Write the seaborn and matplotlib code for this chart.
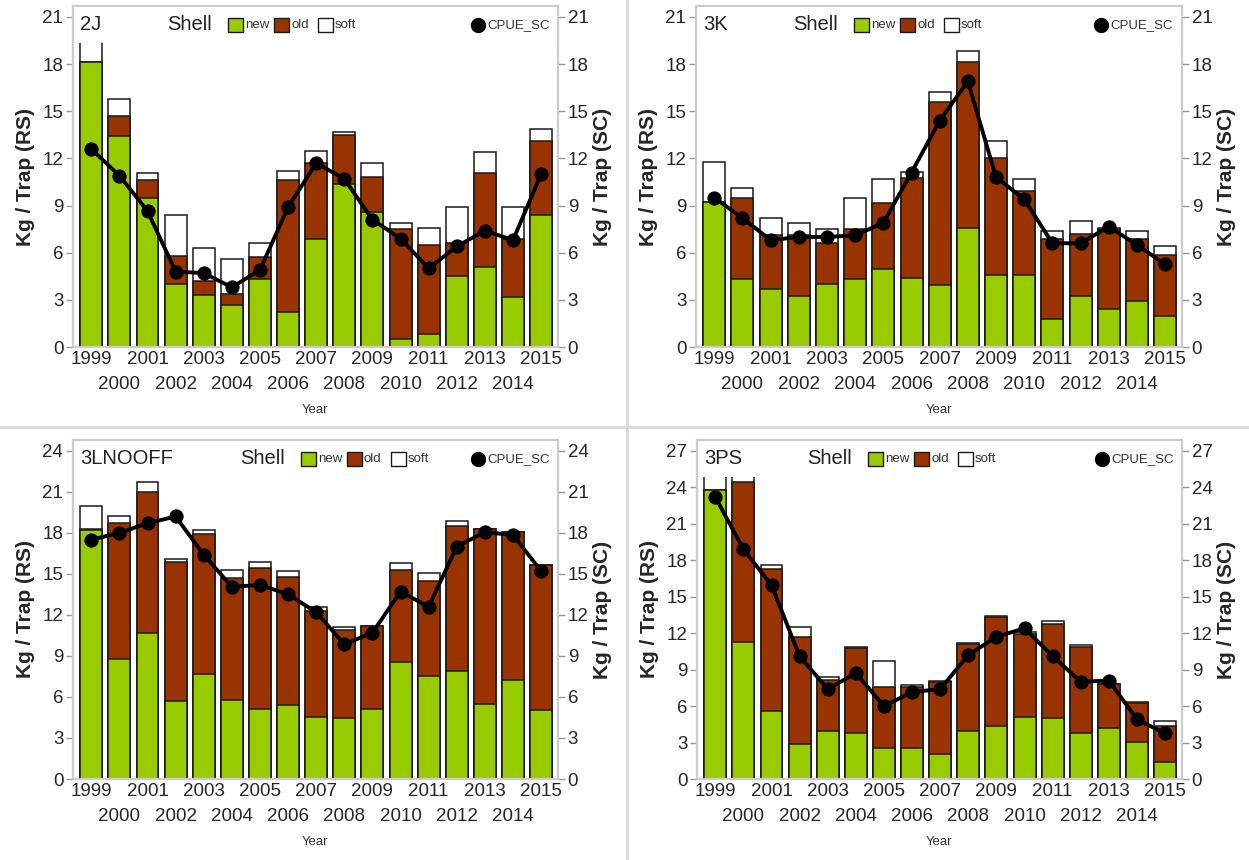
import numpy as np
import matplotlib
matplotlib.use('Agg')
import matplotlib.pyplot as plt
import seaborn as sns
from matplotlib.patches import Rectangle
from matplotlib.lines import Line2D

years = list(range(1999, 2016))

# -------- 2J --------
new_2j = [18.1, 13.4, 9.5, 4.0, 3.3, 2.7, 4.3, 2.2, 6.9, 10.4, 8.6, 0.5, 0.8, 4.5, 5.1, 3.2, 8.4]
old_2j = [0.0, 1.3, 1.1, 1.8, 0.9, 0.7, 1.4, 8.4, 4.8, 3.1, 2.2, 7.0, 5.7, 2.1, 6.0, 3.7, 4.7]
soft_2j = [1.7, 1.1, 0.5, 2.6, 2.1, 2.2, 0.9, 0.6, 0.8, 0.2, 0.9, 0.4, 1.1, 2.3, 1.3, 2.0, 0.8]
cpue_2j = [12.6, 10.9, 8.65, 4.8, 4.7, 3.8, 4.9, 8.9, 11.7, 10.7, 8.1, 6.9, 5.0, 6.4, 7.4, 6.8, 11.0]

# -------- 3K --------
new_3k = [9.2, 4.35, 3.7, 3.25, 4.0, 4.3, 4.95, 4.4, 3.95, 7.6, 4.55, 4.6, 1.75, 3.25, 2.4, 2.95, 1.95]
old_3k = [0.0, 5.1, 3.4, 3.85, 2.6, 3.2, 4.2, 6.35, 11.65, 10.55, 7.45, 5.3, 5.15, 3.95, 5.1, 3.95, 3.9]
soft_3k = [2.6, 0.65, 1.1, 0.8, 0.9, 2.0, 1.55, 0.4, 0.6, 0.65, 1.1, 0.8, 0.5, 0.8, 0.1, 0.5, 0.55]
cpue_3k = [9.5, 8.2, 6.8, 7.0, 7.0, 7.1, 7.9, 11.1, 14.4, 16.9, 10.8, 9.4, 6.6, 6.6, 7.65, 6.5, 5.25]

# -------- 3LNOOFF --------
new_3l = [18.2, 8.8, 10.7, 5.7, 7.7, 5.8, 5.1, 5.4, 4.5, 4.47, 5.15, 8.55, 7.5, 7.9, 5.5, 7.25, 5.07]
old_3l = [0.1, 9.9, 10.3, 10.2, 10.2, 8.9, 10.3, 9.4, 7.8, 6.4, 6.05, 6.75, 7.0, 10.6, 12.75, 10.8, 10.6]
soft_3l = [1.7, 0.5, 0.7, 0.2, 0.3, 0.6, 0.5, 0.4, 0.25, 0.25, 0.0, 0.5, 0.6, 0.4, 0.0, 0.0, 0.0]
cpue_3l = [17.5, 18.0, 18.7, 19.2, 16.4, 14.05, 14.2, 13.5, 12.2, 9.85, 10.7, 13.7, 12.6, 17.0, 18.05, 17.85, 15.2]

# -------- 3PS --------
new_3ps = [23.8, 11.3, 5.6, 2.85, 3.95, 3.8, 2.55, 2.55, 2.05, 3.95, 4.4, 5.1, 5.0, 3.75, 4.2, 3.05, 1.4]
old_3ps = [0.0, 13.1, 11.7, 8.85, 4.2, 7.0, 5.05, 5.05, 5.95, 7.15, 8.9, 6.8, 7.75, 7.15, 3.6, 3.2, 3.0]
soft_3ps = [1.7, 0.8, 0.3, 0.8, 0.25, 0.05, 2.1, 0.15, 0.1, 0.1, 0.15, 0.2, 0.25, 0.1, 0.0, 0.05, 0.4]
cpue_3ps = [23.2, 18.9, 15.95, 10.1, 7.4, 8.7, 6.0, 7.15, 7.4, 10.2, 11.7, 12.4, 10.1, 8.0, 8.1, 4.9, 3.75]

sns.set_style('white')
plt.rcParams['font.family'] = ['Liberation Sans', 'DejaVu Sans']

GREEN = '#99cc00'
BROWN = '#993300'
EDGE = '#1a1a1a'
FRAME = '#cccccc'
W, H = 1249, 860

fig = plt.figure(figsize=(W / 100, H / 100), dpi=100)


def draw_panel(name, new, old, soft, cpue, ymax, box, shell_px):
    x0, y0, x1, y1 = box
    pw, ph = x1 - x0, y1 - y0
    ax = fig.add_axes([x0 / W, 1 - y1 / H, pw / W, ph / H])

    new = np.array(new)
    old_top = new + np.array(old)
    total = old_top + np.array(soft)
    for vals, col in [(total, 'white'), (old_top, BROWN), (new, GREEN)]:
        sns.barplot(x=years, y=vals, color=col, saturation=1, width=0.78,
                    edgecolor=EDGE, linewidth=1.1, errorbar=None, ax=ax)

    top = ymax * 1.033
    ax.set_ylim(0, top)
    ax.set_xlim(-0.65, 16.6)
    ax.set_yticks(range(0, ymax + 1, 3))
    ax.set_ylabel('Kg / Trap (RS)', fontsize=15, fontweight='bold', labelpad=5)
    ax.set_xlabel('')

    # two rows of year labels
    ax.set_xticks(range(0, 17, 2))
    ax.set_xticklabels([str(y) for y in years[::2]])
    ax.set_xticks(range(1, 17, 2), minor=True)
    ax.set_xticklabels([str(y) for y in years[1::2]], minor=True)
    ax.tick_params(axis='x', which='major', length=0, pad=3, labelsize=13.5)
    ax.tick_params(axis='x', which='minor', length=0, pad=21, labelsize=13.5)
    ax.tick_params(axis='y', length=5, width=1, color='#999999', pad=2, labelsize=13.5)

    # white band holding the legend
    ax.add_patch(Rectangle((0, 0.892), 1, 0.108, transform=ax.transAxes,
                           facecolor='white', edgecolor='none', zorder=5))

    ax2 = ax.twinx()
    sns.lineplot(x=np.arange(17), y=cpue, ax=ax2, color='black', lw=2.8,
                 marker='o', markersize=9.5, markeredgecolor='black')
    ax2.set_ylim(0, top)
    ax2.set_yticks(range(0, ymax + 1, 3))
    ax2.set_ylabel('Kg / Trap (SC)', fontsize=15, fontweight='bold', labelpad=3)
    ax2.tick_params(axis='y', length=5, width=1, color='#999999', pad=2, labelsize=13.5)

    for a in (ax, ax2):
        for s in a.spines.values():
            s.set_color(FRAME)
            s.set_linewidth(1.5)

    # legend inside the band
    ty = 0.945
    fx = lambda px: (px - x0) / pw
    ax.text(fx(x0 + 7), ty, name, transform=ax.transAxes, fontsize=14.5,
            va='center', ha='left', color='#222222', zorder=7)
    ax.text(fx(shell_px), ty, 'Shell', transform=ax.transAxes, fontsize=14.5,
            va='center', ha='left', color='#222222', zorder=7)
    bw, bh = 15 / pw, 14 / ph
    for off, col, lab in [(61, GREEN, 'new'), (107, BROWN, 'old'), (151, 'white', 'soft')]:
        ax.add_patch(Rectangle((fx(shell_px + off), ty - bh / 2), bw, bh,
                               transform=ax.transAxes, facecolor=col,
                               edgecolor=EDGE, linewidth=1.0, zorder=7))
        ax.text(fx(shell_px + off + 17), ty, lab, transform=ax.transAxes,
                fontsize=9.5, va='center', ha='left', color='#333333', zorder=7)
    ax.plot([fx(x0 + 405)], [ty], transform=ax.transAxes, marker='o',
            markersize=10, color='black', clip_on=False, zorder=7)
    ax.text(fx(x0 + 414), ty, 'CPUE_SC', transform=ax.transAxes, fontsize=9.5,
            va='center', ha='left', color='#333333', zorder=7)

    fig.text((x0 + x1) / 2 / W, 1 - (y1 + 63) / H, 'Year', fontsize=9.5,
             ha='center', va='center', color='#333333')


draw_panel('2J', new_2j, old_2j, soft_2j, cpue_2j, 21, (73, 6, 558, 347), 167)
draw_panel('3K', new_3k, old_3k, soft_3k, cpue_3k, 21, (696, 6, 1182, 347), 793)
draw_panel('3LNOOFF', new_3l, old_3l, soft_3l, cpue_3l, 24, (73, 440, 558, 779), 240)
draw_panel('3PS', new_3ps, old_3ps, soft_3ps, cpue_3ps, 27, (697, 440, 1182, 779), 807)

# panel dividers
fig.add_artist(Line2D([627 / W, 627 / W], [0, 1], transform=fig.transFigure,
                      color='#d9d9d9', lw=2))
fig.add_artist(Line2D([0, 1], [1 - 427 / H, 1 - 427 / H], transform=fig.transFigure,
                      color='#d9d9d9', lw=2))

fig.savefig('out.png', dpi=100)
